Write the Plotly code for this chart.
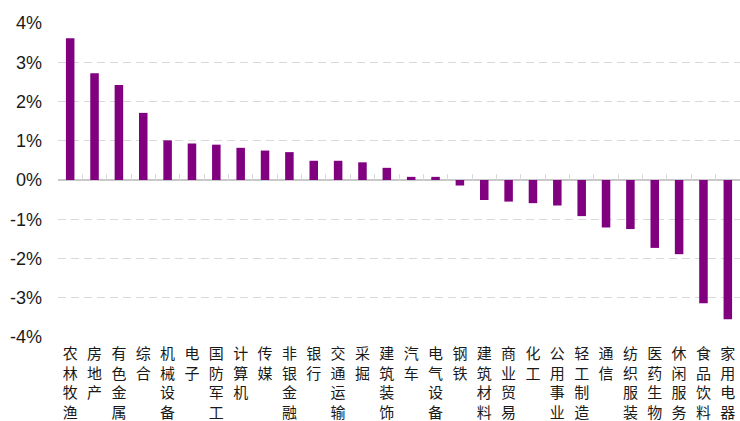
import plotly.graph_objects as go

categories = ["农林牧渔", "房地产", "有色金属", "综合", "机械设备", "电子", "国防军工",
              "计算机", "传媒", "非银金融", "银行", "交通运输", "采掘", "建筑装饰",
              "汽车", "电气设备", "钢铁", "建筑材料", "商业贸易", "化工", "公用事业",
              "轻工制造", "通信", "纺织服装", "医药生物", "休闲服务", "食品饮料", "家用电器"]
values = [3.61, 2.72, 2.42, 1.71, 1.01, 0.93, 0.90, 0.82, 0.75, 0.71, 0.49, 0.49, 0.45,
          0.31, 0.08, 0.08, -0.14, -0.51, -0.55, -0.59, -0.65, -0.92, -1.21, -1.25,
          -1.73, -1.89, -3.14, -3.55]
y_ticks = [-4, -3, -2, -1, 0, 1, 2, 3, 4]
y_tick_text = [f"{v}%" for v in y_ticks]

labels = ["<br>".join(list(c)) for c in categories]
n = len(labels)

fig = go.Figure()
fig.add_trace(go.Bar(x=labels, y=values, marker=dict(color="#800080", line=dict(width=0)),
                     hoverinfo="skip"))
# invisible trace to carry the zero-line tick axis
fig.add_trace(go.Scatter(x=labels, y=[0] * n, mode="none", xaxis="x2",
                         hoverinfo="skip", showlegend=False))

fig.update_layout(
    width=740, height=421,
    margin=dict(l=58, r=0, t=23, b=84),
    paper_bgcolor="white", plot_bgcolor="white",
    showlegend=False, bargap=0.65,
    font=dict(family="Liberation Sans, Arial, sans-serif", color="#1a1a1a"),
    xaxis=dict(
        type="category", range=[-0.5, n - 0.5], automargin=False,
        showgrid=False, showline=False, ticks="", zeroline=False,
        tickfont=dict(family="Noto Sans CJK SC", size=15, color="#1a1a1a"),
        tickangle=0, ticklabelstandoff=6,
    ),
    xaxis2=dict(
        type="category", overlaying="x", anchor="free", position=0.5,
        range=[-0.5, n - 0.5], automargin=False,
        side="bottom", showticklabels=False, showgrid=False, showline=False,
        ticks="inside", tickson="boundaries", ticklen=6, tickcolor="#d9d9d9", tickwidth=1,
    ),
    yaxis=dict(
        range=[-4, 4], tickmode="array", tickvals=y_ticks, ticktext=y_tick_text,
        automargin=False,
        showgrid=True, gridcolor="#d9d9d9", griddash="8px,5px", gridwidth=1,
        zeroline=True, zerolinecolor="#c8c8c8", zerolinewidth=1.5,
        showline=False, ticks="",
        tickfont=dict(family="Liberation Sans", size=18, color="#1a1a1a"),
        ticklabelstandoff=15,
    ),
)

fig.write_html("out.html", config={"displayModeBar": False},
               post_script="document.body.style.margin='0';document.body.style.overflow='hidden';")
